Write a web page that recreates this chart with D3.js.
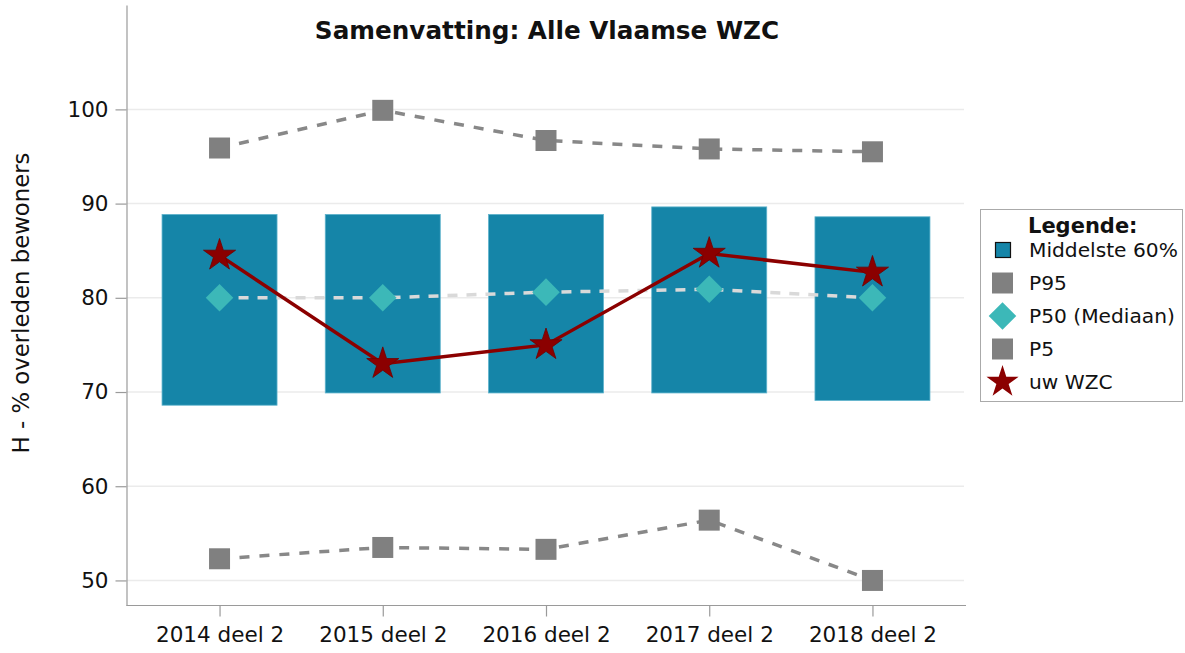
<!DOCTYPE html>
<html><head><meta charset="utf-8">
<script src="https://cdn.jsdelivr.net/npm/d3@7"></script>
<style>body{margin:0;background:#fff}svg{display:block}text{font-family:"DejaVu Sans",Verdana,sans-serif}</style>
</head><body><svg id="c" width="1185" height="653"></svg>
<script>
const categories = ["2014 deel 2","2015 deel 2","2016 deel 2","2017 deel 2","2018 deel 2"];
const boxLow  = [68.6, 69.9, 69.9, 69.9, 69.1];
const boxHigh = [88.85, 88.85, 88.85, 89.65, 88.6];
const p95 = [95.9, 99.9, 96.7, 95.8, 95.5];
const p50 = [80.0, 80.0, 80.6, 80.9, 80.0];
const p5  = [52.3, 53.5, 53.3, 56.4, 50.0];
const wzc = [84.5, 73.0, 75.0, 84.7, 82.7];
const yTicks = [50, 60, 70, 80, 90, 100];
const title = "Samenvatting: Alle Vlaamse WZC";
const yTitle = "H - % overleden bewoners";
const legendTitle = "Legende:";
const legendItems = ["Middelste 60%","P95","P50 (Mediaan)","P5","uw WZC"];

const svg = d3.select("#c");
const L = 126.5, R = 965.5, T = 5, B = 605.5;
const x = d3.scalePoint().domain(categories).range([L, R]).padding(0.57);
const y = d3.scaleLinear().domain([47.34, 111.08]).range([B, T]);
const barW = 115;
const cBar = "#1585a8", cGrey = "#808080", cDia = "#3cb8b8", cRed = "#8b0000", cMedLine = "#d9d9d9";

// gridlines
svg.append("g").selectAll("line").data(yTicks).join("line")
  .attr("x1", L).attr("x2", 964).attr("y1", d => y(d)).attr("y2", d => y(d))
  .attr("stroke", "#ebebeb").attr("stroke-width", 1.5);

// axes
const ya = svg.append("g").attr("transform", `translate(${L},0)`)
  .call(d3.axisLeft(y).tickValues(yTicks).tickSize(11).tickPadding(7).tickSizeOuter(0));
const xa = svg.append("g").attr("transform", `translate(0,${B})`)
  .call(d3.axisBottom(x).tickSize(11).tickPadding(10).tickSizeOuter(0));
[ya, xa].forEach(a => {
  a.selectAll("path,line").attr("stroke", "#9a9a9a").attr("stroke-width", 1.2);
  a.selectAll("text").attr("font-size", 21.5).attr("fill", "#111").attr("font-family", '"DejaVu Sans",sans-serif');
});
xa.select(".domain").attr("d", `M${L},0H966`);

// bars
const rows = categories.map((c, i) => ({c, lo: boxLow[i], hi: boxHigh[i], p95: p95[i], p50: p50[i], p5: p5[i], w: wzc[i]}));
svg.append("g").selectAll("rect").data(rows).join("rect")
  .attr("x", d => x(d.c) - barW / 2).attr("width", barW)
  .attr("y", d => y(d.hi)).attr("height", d => y(d.lo) - y(d.hi))
  .attr("fill", cBar).attr("stroke", "#5fb3cc").attr("stroke-width", 0.8);

function dashLine(key, color, w, dash) {
  svg.append("path").datum(rows)
    .attr("d", d3.line().x(d => x(d.c)).y(d => y(d[key])))
    .attr("fill", "none").attr("stroke", color).attr("stroke-width", w)
    .attr("stroke-dasharray", dash);
}
dashLine("p95", "#888", 3.5, "10,10");
dashLine("p5", "#888", 3.5, "10,10");
dashLine("p50", cMedLine, 3.5, "10,9");

const sq = d3.symbol().type(d3.symbolSquare).size(441)();
const dia = d3.symbol().type(d3.symbolSquare).size(380)();
const star = d3.symbol().type(d3.symbolStar).size(320)();

["p95", "p5"].forEach(k => {
  svg.append("g").selectAll("path").data(rows).join("path")
    .attr("d", sq).attr("transform", d => `translate(${x(d.c)},${y(d[k])})`).attr("fill", cGrey);
});
svg.append("g").selectAll("path").data(rows).join("path")
  .attr("d", dia).attr("transform", d => `translate(${x(d.c)},${y(d.p50)}) rotate(45)`).attr("fill", cDia);

svg.append("path").datum(rows)
  .attr("d", d3.line().x(d => x(d.c)).y(d => y(d.w)))
  .attr("fill", "none").attr("stroke", cRed).attr("stroke-width", 3.5);
svg.append("g").selectAll("path").data(rows).join("path")
  .attr("d", star).attr("transform", d => `translate(${x(d.c)},${y(d.w)})`).attr("fill", cRed)
  .attr("stroke", "#6e0000").attr("stroke-width", 0.8);

// title
svg.append("text").attr("x", 547).attr("y", 39).attr("text-anchor", "middle")
  .attr("font-size", 24.7).attr("font-weight", "bold").attr("fill", "#111").text(title);

// y title
svg.append("text").attr("transform", "translate(29,303) rotate(-90)").attr("text-anchor", "middle")
  .attr("font-size", 22.8).attr("fill", "#111").text(yTitle);

// legend
const lg = svg.append("g");
lg.append("rect").attr("x", 980.5).attr("y", 209.5).attr("width", 202).attr("height", 192)
  .attr("fill", "#fff").attr("stroke", "#aaa").attr("stroke-width", 1);
lg.append("text").attr("x", 1028).attr("y", 233).attr("font-size", 21).attr("font-weight", "bold").attr("fill", "#111").text(legendTitle);
const ly = i => 250 + i * 33;
lg.selectAll("text.it").data(legendItems).join("text").attr("class", "it")
  .attr("x", 1029).attr("y", (d, i) => ly(i) + 7).attr("font-size", 20.2).attr("fill", "#111").text(d => d);
lg.append("rect").attr("x", 995.5).attr("y", ly(0) - 7.5).attr("width", 15).attr("height", 15)
  .attr("fill", cBar).attr("stroke", "#111").attr("stroke-width", 1.2);
lg.append("path").attr("d", sq).attr("transform", `translate(1002.5,${ly(1)})`).attr("fill", cGrey);
lg.append("path").attr("d", dia).attr("transform", `translate(1002.5,${ly(2)}) rotate(45)`).attr("fill", cDia);
lg.append("path").attr("d", sq).attr("transform", `translate(1002.5,${ly(3)})`).attr("fill", cGrey);
lg.append("path").attr("d", star).attr("transform", `translate(1002.5,${ly(4)})`).attr("fill", cRed);
</script></body></html>
